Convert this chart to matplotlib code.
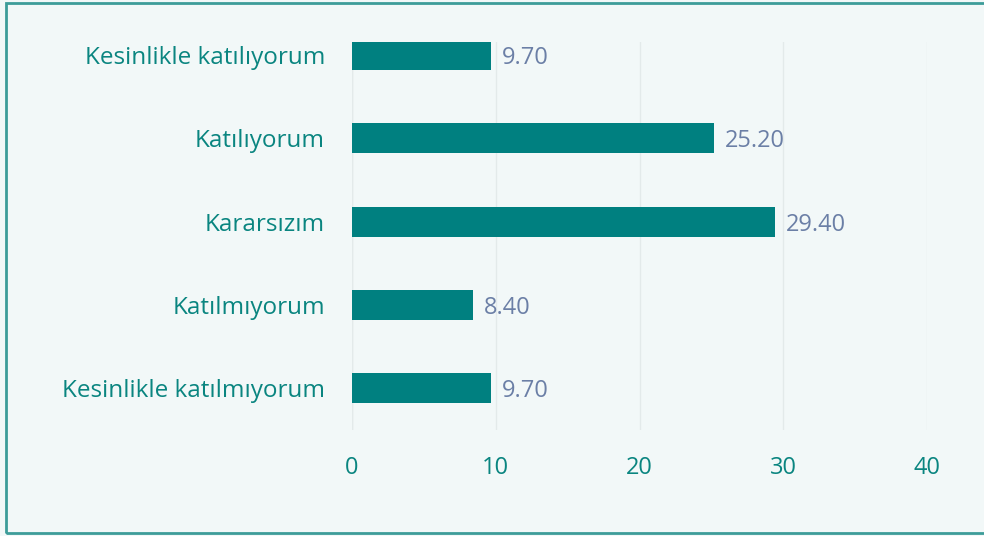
import matplotlib
matplotlib.use("Agg")
import matplotlib.pyplot as plt
from matplotlib.patches import Rectangle

categories = ["Kesinlikle katılıyorum", "Katılıyorum", "Kararsızım", "Katılmıyorum", "Kesinlikle katılmıyorum"]
values = [9.70, 25.20, 29.40, 8.40, 9.70]
xticks = [0, 10, 20, 30, 40]

plt.rcParams['font.family'] = ['Open Sans', 'DejaVu Sans']

W, H = 984, 536
fig = plt.figure(figsize=(W/100, H/100), dpi=100)
bg = '#f2f8f8'
fig.patch.set_facecolor(bg)
fig.patches.append(Rectangle((6/W, 3/H), 1.2, 530/H, transform=fig.transFigure,
                             fill=False, edgecolor='#3d9c99', linewidth=2, zorder=10))

ax = fig.add_axes([352/W, 1-430/H, (927-352)/W, (430-42)/H])
ax.set_facecolor(bg)
ypos = list(range(len(categories)))[::-1]
ax.barh(ypos, values, height=0.36, color='#008080', zorder=3)
for y, v in zip(ypos, values):
    ax.text(v + 0.75, y, f"{v:.2f}", va='center_baseline', ha='left', fontsize=17, color='#6b7fa6')
ax.set_yticks(ypos)
ax.set_yticklabels(categories, fontsize=17.5, color='#0a8580')
ax.set_xticks(xticks)
ax.set_xticklabels([str(t) for t in xticks], fontsize=17, color='#0a8580')
ax.set_xlim(0, 40)
ax.set_ylim(-0.5, 4.156)
ax.tick_params(axis='both', length=0)
ax.tick_params(axis='x', pad=19)
ax.tick_params(axis='y', pad=19.5)
for s in ax.spines.values():
    s.set_visible(False)
ax.grid(axis='x', color='#e3eaea', linewidth=1, zorder=0)
ax.axvline(0, color='#e3eaea', linewidth=1, zorder=0)

fig.savefig('out.png', dpi=100, facecolor=bg)
